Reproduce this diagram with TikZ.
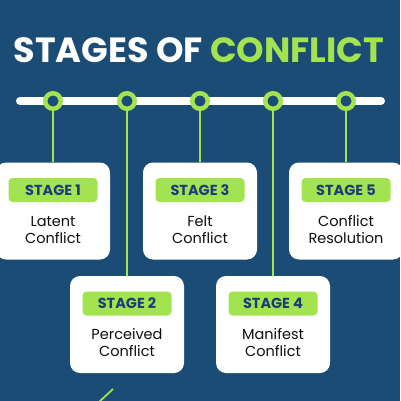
\documentclass[tikz,border=0pt]{standalone}
\usepackage{fontspec}
\setmainfont{Poppins}
\newfontfamily\popbold{Poppins Bold}
\definecolor{bgblue}{HTML}{1B4C75}
\definecolor{lgreen}{HTML}{A3E34F}
\definecolor{navy}{HTML}{1A3E78}
\definecolor{ink}{HTML}{0E0E0E}
\tikzset{
  dot/.style={circle, draw=lgreen, line width=4.5pt, fill=bgblue, minimum size=15.5pt, inner sep=0pt},
  card/.style={rectangle, fill=white, rounded corners=10pt, minimum width=114pt, minimum height=97pt, inner sep=0pt},
  pill/.style={rectangle, fill=lgreen, rounded corners=4pt, minimum width=89pt, minimum height=24pt, inner sep=0pt,
    font=\popbold\fontsize{14.5}{16}\selectfont, text=navy},
  body/.style={align=center, font=\fontsize{14.5}{17}\selectfont, text=ink, inner sep=0pt},
  stem/.style={draw=lgreen, line width=2pt},
  title/.style={font=\popbold\fontsize{35}{40}\selectfont, inner sep=0pt}
}
\begin{document}
\begin{tikzpicture}[x=1pt,y=-1pt]
\useasboundingbox (0,0) rectangle (400,401);
\fill[bgblue] (0,0) rectangle (400,401);
\clip (0,0) rectangle (400,401);
% title
\node[title, anchor=base] (title) at (199,63) {\textcolor{white}{STAGES OF }\textcolor{lgreen}{CONFLICT}};
% timeline
\coordinate (tl) at (20,101);
\coordinate (tr) at (381,101);
\draw[white, line width=8pt, line cap=round] (tl) -- (tr);
% cards
\node[card] (b1) at (53,211) {};
\node[card] (b2) at (127,324.5) {};
\node[card] (b3) at (200,211) {};
\node[card] (b4) at (273,324.5) {};
\node[card] (b5) at (346,211) {};
% stems
\foreach \i/\x in {1/53,2/127,3/200,4/273,5/346} {
  \node[dot] (c\i) at (\x,101) {};
  \draw[stem] (c\i.south) -- (c\i.south |- b\i.north);
}
% pills and texts
\node[pill] (p1) at (53,190) {STAGE 1};
\node[pill] (p2) at (127,303.5) {STAGE 2};
\node[pill] (p3) at (200,190) {STAGE 3};
\node[pill] (p4) at (273,303.5) {STAGE 4};
\node[pill] (p5) at (346,190) {STAGE 5};
\node[body, anchor=base] (t1) at (53,226) {Latent};
\node[body, anchor=base] (u1) at (53,243) {Conflict};
\node[body, anchor=base] (t2) at (127,339.5) {Perceived};
\node[body, anchor=base] (u2) at (127,356.5) {Conflict};
\node[body, anchor=base] (t3) at (200,226) {Felt};
\node[body, anchor=base] (u3) at (200,243) {Conflict};
\node[body, anchor=base] (t4) at (273,339.5) {Manifest};
\node[body, anchor=base] (u4) at (273,356.5) {Conflict};
\node[body, anchor=base] (t5) at (346,226) {Conflict};
\node[body, anchor=base] (u5) at (346,243) {Resolution};
% bottom accent
\coordinate (g1) at (113,389);
\coordinate (g2) at (99,402);
\draw[lgreen, line width=1.8pt] (g1) -- (g2);
\end{tikzpicture}
\end{document}
